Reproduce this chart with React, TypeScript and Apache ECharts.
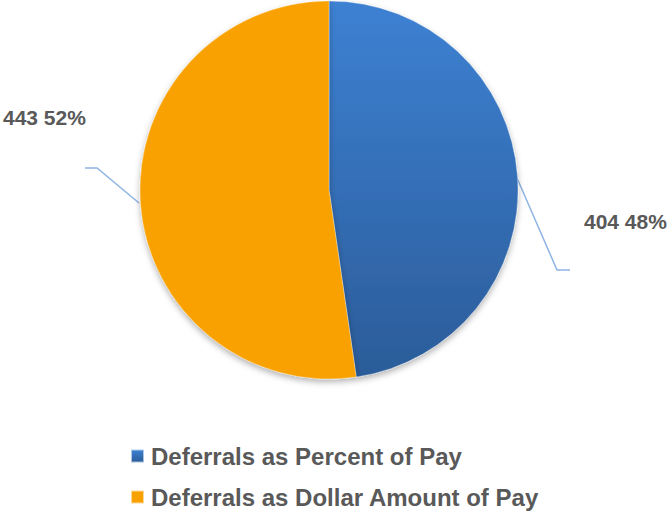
import React, { useEffect, useRef } from "react";
import * as echarts from "echarts";

const categories = ["Deferrals as Percent of Pay", "Deferrals as Dollar Amount of Pay"];
const values = [404, 443];

export default function App() {
  const ref = useRef<HTMLDivElement>(null);
  useEffect(() => {
    document.body.style.margin = "0";
    const chart = echarts.init(ref.current!, undefined, { renderer: "svg" });
    const blue = new echarts.graphic.LinearGradient(0, 0, 0, 1, [
      { offset: 0, color: "#3d81d3" },
      { offset: 1, color: "#2b5c99" },
    ]);
    const colors = [blue, "#f9a100"];
    const linePts: Record<number, number[][]> = {
      0: [[517, 178], [557, 270], [570, 270]],
      1: [[139, 203], [97, 168], [85, 168]],
    };
    const labelPos: Record<number, [number, number]> = {
      0: [584, 221],
      1: [3, 117],
    };
    chart.setOption({
      animation: false,
      legend: {
        orient: "vertical",
        left: 125,
        top: 439,
        height: 90,
        itemWidth: 13,
        itemHeight: 13,
        itemGap: 17,
        icon: "rect",
        textStyle: {
          fontFamily: "Liberation Sans, Arial, sans-serif",
          fontWeight: "bold",
          fontSize: 24,
          lineHeight: 24,
          color: "#595959",
          padding: [0, 0, 0, 2],
        },
        data: categories,
      },
      series: [
        {
          type: "pie",
          center: [329, 190],
          radius: 189,
          startAngle: 90,
          clockwise: true,
          percentPrecision: 0,
          itemStyle: {
            borderColor: "rgba(255,255,255,0.6)",
            borderWidth: 0.5,
            shadowBlur: 6,
            shadowOffsetY: 3,
            shadowColor: "rgba(0,0,0,0.3)",
          },
          label: {
            show: true,
            position: "outside",
            formatter: "{c} {d}%",
            overflow: "none",
            fontFamily: "Liberation Sans, Arial, sans-serif",
            fontWeight: "bold",
            fontSize: 21,
            color: "#595959",
          },
          labelLine: {
            show: true,
            lineStyle: { color: "#8eb4e3", width: 1.5 },
          },
          labelLayout: (params: any) => {
            const i = params.dataIndex;
            return {
              x: labelPos[i][0],
              y: labelPos[i][1],
              align: "left",
              verticalAlign: "middle",
              labelLinePoints: linePts[i],
            };
          },
          data: categories.map((name, i) => ({
            name,
            value: values[i],
            itemStyle: { color: colors[i] },
          })),
        },
      ],
    });
    return () => chart.dispose();
  }, []);
  return <div ref={ref} style={{ width: 672, height: 514 }} />;
}
